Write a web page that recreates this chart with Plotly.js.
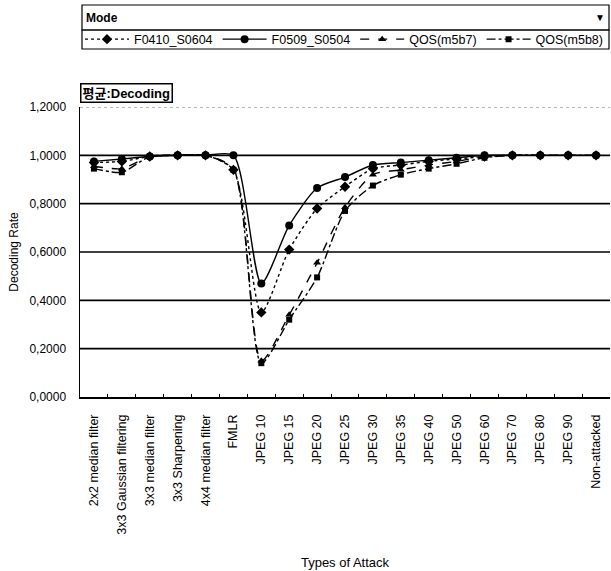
<!DOCTYPE html>
<html>
<head>
<meta charset="utf-8">
<script src="https://cdn.plot.ly/plotly-3.0.1.min.js"></script>
<style>html,body{margin:0;padding:0;background:#fff;}#chart{width:611px;height:571px;}</style>
</head>
<body>
<div id="chart"></div>
<script>
var categories = ["2x2 median filter","3x3 Gaussian filtering","3x3 median filter","3x3 Sharpening","4x4 median filter","FMLR","JPEG 10","JPEG 15","JPEG 20","JPEG 25","JPEG 30","JPEG 35","JPEG 40","JPEG 50","JPEG 60","JPEG 70","JPEG 80","JPEG 90","Non-attacked"];
var seriesNames = ["F0410_S0604","F0509_S0504","QOS(m5b7)","QOS(m5b8)"];
var f0410 = [0.970,0.975,0.995,1.000,1.000,0.940,0.350,0.610,0.780,0.870,0.945,0.960,0.975,0.985,0.995,1.000,1.000,1.000,1.000];
var f0509 = [0.975,0.985,0.995,1.000,1.000,1.000,0.470,0.710,0.865,0.910,0.960,0.970,0.980,0.990,1.000,1.000,1.000,1.000,1.000];
var qos7  = [0.955,0.945,0.995,1.000,1.000,0.945,0.150,0.340,0.555,0.785,0.920,0.940,0.960,0.975,0.995,1.000,1.000,1.000,1.000];
var qos8  = [0.945,0.930,0.995,1.000,1.000,0.940,0.140,0.320,0.495,0.770,0.875,0.920,0.945,0.965,0.990,1.000,1.000,1.000,1.000];
var yTicks = [0,0.2,0.4,0.6,0.8,1.0,1.2];

var font = "Arial, 'Liberation Sans', sans-serif";
var PT = 107, PB = 397, PH = PB - PT;
function py(p){ return (PB - p) / PH; }
function px(p){ return (p - 80) / 530; }

function tr(name, y, dash, symbol, size){
  return {x:categories, y:y, name:name, type:'scatter', mode:'lines+markers',
    line:{color:'#000', width:1.4, dash:dash, shape:'spline', smoothing:0.7},
    marker:{color:'#000', symbol:symbol, size:size}};
}
var data = [
  tr(seriesNames[0], f0410, 'dot', 'diamond', 8),
  tr(seriesNames[1], f0509, 'solid', 'circle', 8),
  tr(seriesNames[2], qos7, 'dash', 'triangle-up', 7),
  tr(seriesNames[3], qos8, 'dashdot', 'square', 6)
];

var shapes = [];
yTicks.forEach(function(v){
  if (v > 0 && v < 1.2) shapes.push({type:'line', xref:'paper', x0:0, x1:1, yref:'y', y0:v, y1:v, line:{color:'#000', width:1.7}, layer:'below'});
});
shapes.push({type:'line', xref:'paper', x0:0, x1:1, yref:'y', y0:1.2, y1:1.2, line:{color:'#777', width:1, dash:'dot'}, layer:'below'});
// Mode box and legend box
shapes.push({type:'rect', xref:'paper', yref:'paper', x0:px(82), x1:px(609), y0:py(30), y1:py(5), line:{color:'#000', width:1.2}});
shapes.push({type:'rect', xref:'paper', yref:'paper', x0:px(82), x1:px(609), y0:py(49), y1:py(30), line:{color:'#000', width:1.2}});

var layout = {
  width:611, height:571,
  margin:{l:80, r:1, t:PT, b:571-PB},
  paper_bgcolor:'#fff', plot_bgcolor:'#fff',
  separators:',.',
  font:{family:font, color:'#000', size:11},
  showlegend:true,
  legend:{orientation:'h', x:px(80), xanchor:'left', y:py(39.5), yanchor:'middle',
    borderwidth:0, bgcolor:'rgba(0,0,0,0)', font:{size:12.5, family:font}, itemwidth:44, tracegroupgap:0},
  xaxis:{type:'category', range:[-0.5,18.5], showline:true, linecolor:'#000', linewidth:1.5,
    ticks:'inside', ticklen:3, tickcolor:'#000', tickson:'boundaries', tickangle:-90,
    tickfont:{size:12.5, family:font}, ticklabelstandoff:11, showgrid:false, zeroline:false,
    title:{text:'Types of Attack', font:{size:13, family:font}, standoff:24}},
  yaxis:{range:[0,1.2], tickvals:yTicks, tickformat:'.4f', showline:true, linecolor:'#000', linewidth:1.5,
    ticks:'', showgrid:false, zeroline:false, tickfont:{size:12, family:font}, ticklabelstandoff:10,
    title:{text:'Decoding Rate', font:{size:12, family:font}, standoff:8}},
  shapes:shapes,
  annotations:[
    {xref:'paper', yref:'paper', x:px(84), y:py(18), xanchor:'left', yanchor:'middle', text:'<b>Mode</b>', showarrow:false, font:{size:12, family:font}},
    {xref:'paper', yref:'paper', x:px(607), y:py(18), xanchor:'right', yanchor:'middle', text:'▼', showarrow:false, font:{size:10, family:font}},
    {xref:'paper', yref:'paper', x:px(80), y:py(93), xanchor:'left', yanchor:'middle', text:'<b>평균:Decoding</b>', showarrow:false,
      font:{size:13, family:"Arial, 'Noto Sans CJK KR', sans-serif"}, bordercolor:'#000', borderwidth:1.5, borderpad:1, bgcolor:'#fff'}
  ]
};
Plotly.newPlot('chart', data, layout, {displayModeBar:false, staticPlot:true});
</script>
</body>
</html>
